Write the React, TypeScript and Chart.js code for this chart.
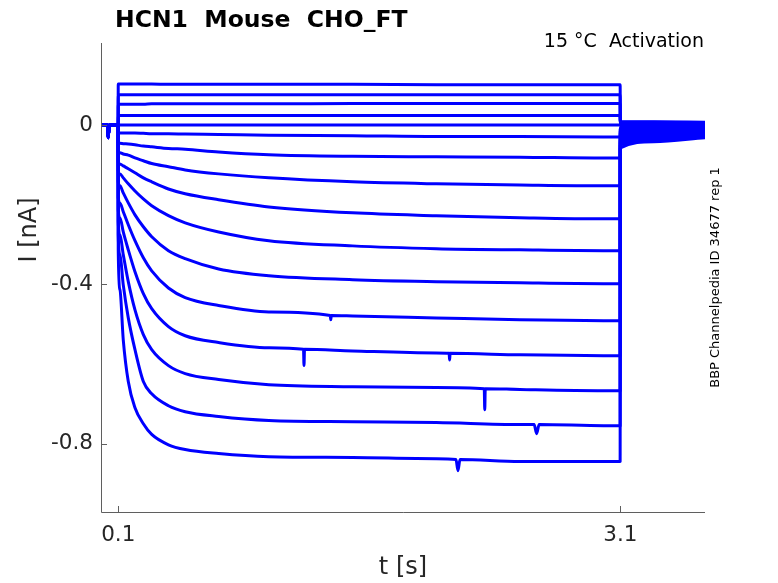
import { useEffect, useRef } from 'react';
import { Chart, registerables } from 'chart.js';
Chart.register(...registerables);

const X_TICKS = [0.1, 3.1];
const Y_TICKS = [-0.8, -0.4, 0];

// holding period before the step (s, nA)
const BASE_T = [-0.003, 0.036, 0.04, 0.046, 0.0995];
const BASE_I = [0.001, 0.001, -0.031, 0.001, 0.001];

// step period sample times (s)
const T_STEP = [0.1, 0.11, 0.13, 0.16, 0.2, 0.25, 0.3, 0.4, 0.5, 0.7, 1.0, 1.5, 2.0, 2.5, 3.0, 3.099];

const T1 = [0.104, 0.104, 0.104, 0.104, 0.104, 0.104, 0.104, 0.103, 0.103, 0.103, 0.103, 0.103, 0.102, 0.102, 0.102, 0.102];
const T2 = [0.077, 0.077, 0.077, 0.077, 0.077, 0.077, 0.077, 0.077, 0.077, 0.077, 0.077, 0.077, 0.077, 0.077, 0.077, 0.077];
const T3 = [0.053, 0.053, 0.053, 0.053, 0.053, 0.053, 0.054, 0.054, 0.054, 0.054, 0.054, 0.055, 0.055, 0.055, 0.055, 0.055];
const T4 = [0.025, 0.025, 0.025, 0.025, 0.025, 0.025, 0.025, 0.025, 0.025, 0.025, 0.025, 0.025, 0.025, 0.025, 0.025, 0.025];
const T5 = [0.001, 0.001, 0.001, 0.001, 0.001, 0.001, 0.001, 0.001, 0.001, 0.001, 0.001, 0.001, 0.001, 0.001, 0.001, 0.001];
const T6 = [-0.019, -0.019, -0.019, -0.019, -0.019, -0.02, -0.021, -0.021, -0.022, -0.023, -0.025, -0.026, -0.028, -0.028, -0.029, -0.029];
const T7 = [-0.044, -0.045, -0.046, -0.047, -0.049, -0.052, -0.054, -0.058, -0.06, -0.067, -0.074, -0.078, -0.079, -0.08, -0.082, -0.082];
const T8 = [-0.067, -0.069, -0.072, -0.075, -0.082, -0.089, -0.096, -0.104, -0.112, -0.122, -0.132, -0.142, -0.147, -0.15, -0.152, -0.152];
const T9 = [-0.092, -0.097, -0.102, -0.109, -0.119, -0.132, -0.142, -0.16, -0.172, -0.187, -0.205, -0.22, -0.227, -0.232, -0.235, -0.235];
const T10 = [-0.114, -0.122, -0.132, -0.147, -0.165, -0.185, -0.202, -0.227, -0.245, -0.268, -0.29, -0.303, -0.31, -0.313, -0.315, -0.315];
const T11 = [-0.142, -0.152, -0.17, -0.195, -0.225, -0.255, -0.28, -0.315, -0.335, -0.361, -0.378, -0.388, -0.393, -0.396, -0.398, -0.398];
const T12 = [-0.182, -0.195, -0.217, -0.25, -0.29, -0.333, -0.366, -0.409, -0.433, -0.453, -0.469, -0.479, -0.484, -0.489, -0.491, -0.491];
const T13 = [-0.212, -0.232, -0.268, -0.313, -0.368, -0.423, -0.461, -0.506, -0.529, -0.546, -0.559, -0.567, -0.572, -0.577, -0.579, -0.579];
const T14 = [-0.242, -0.275, -0.325, -0.393, -0.464, -0.526, -0.564, -0.604, -0.624, -0.639, -0.652, -0.657, -0.659, -0.664, -0.667, -0.667];
const T15 = [-0.275, -0.325, -0.401, -0.484, -0.564, -0.644, -0.675, -0.705, -0.72, -0.732, -0.742, -0.745, -0.747, -0.752, -0.755, -0.755];
const T16 = [-0.313, -0.413, -0.539, -0.644, -0.71, -0.75, -0.777, -0.803, -0.815, -0.825, -0.833, -0.835, -0.838, -0.845, -0.845, -0.845];
const TRACES = [T1, T2, T3, T4, T5, T6, T7, T8, T9, T10, T11, T12, T13, T14, T15, T16];

// tail currents after the step (s, nA per trace)
const TAIL_T = [3.1, 3.3, 3.606];
const TAIL_START = [0.009, 0.008, 0.006, 0.004, 0.001, -0.004, -0.009, -0.014, -0.019, -0.024, -0.029, -0.034, -0.039, -0.044, -0.05, -0.057];
const TAIL_MID = [0.009, 0.008, 0.006, 0.004, 0.001, -0.003, -0.006, -0.01, -0.014, -0.018, -0.021, -0.025, -0.029, -0.033, -0.036, -0.041];
const TAIL_END = [0.008, 0.006, 0.005, 0.004, 0.001, -0.001, -0.004, -0.006, -0.009, -0.011, -0.014, -0.018, -0.021, -0.024, -0.028, -0.031];

// artefact spikes: [trace index, time, base level, peak level, half width]
const SPIKES: number[][] = [
  [11, 1.37, -0.478, -0.489, 0.003],
  [12, 1.21, -0.563, -0.604, 0.003],
  [12, 2.08, -0.573, -0.59, 0.003],
  [13, 2.29, -0.662, -0.715, 0.003],
  [14, 2.6, -0.752, -0.775, 0.015],
  [15, 2.13, -0.84, -0.868, 0.012],
];

const TITLE = 'HCN1  Mouse  CHO_FT';
const SUBTITLE = '15 °C  Activation';
const X_LABEL = 't [s]';
const Y_LABEL = 'I [nA]';
const SIDE_NOTE = 'BBP Channelpedia ID 34677 rep 1';

export default function App() {
  const ref = useRef<HTMLCanvasElement>(null);
  useEffect(() => {
    if (!ref.current) return;
    const datasets = TRACES.map((tr, i) => {
      const pts: { x: number; y: number }[] = [];
      BASE_T.forEach((t, k) => pts.push({ x: t, y: BASE_I[k] }));
      T_STEP.forEach((t, k) => pts.push({ x: t, y: tr[k] }));
      pts.push({ x: TAIL_T[0], y: TAIL_START[i] });
      pts.push({ x: TAIL_T[1], y: TAIL_MID[i] });
      pts.push({ x: TAIL_T[2], y: TAIL_END[i] });
      SPIKES.filter((s) => s[0] === i).forEach((s) => {
        pts.push({ x: s[1] - s[4], y: s[2] }, { x: s[1], y: s[3] }, { x: s[1] + s[4], y: s[2] });
      });
      pts.sort((a, b) => a.x - b.x);
      return {
        data: pts,
        borderColor: '#0000ff',
        borderWidth: 3,
        pointRadius: 0,
        fill: false,
        cubicInterpolationMode: 'monotone',
      };
    });

    const axisPlugin = {
      id: 'matlabAxes',
      afterDraw(chart: any) {
        const ctx = chart.ctx as CanvasRenderingContext2D;
        const { left, right, top, bottom } = chart.chartArea;
        const xs = chart.scales.x;
        const ys = chart.scales.y;
        ctx.save();
        ctx.strokeStyle = '#5f5f5f';
        ctx.lineWidth = 1;
        ctx.beginPath();
        ctx.moveTo(left + 0.5, top);
        ctx.lineTo(left + 0.5, bottom + 0.5);
        ctx.lineTo(right, bottom + 0.5);
        Y_TICKS.forEach((v) => {
          const p = Math.round(ys.getPixelForValue(v)) + 0.5;
          ctx.moveTo(left, p);
          ctx.lineTo(left + 6, p);
        });
        X_TICKS.forEach((v) => {
          const p = Math.round(xs.getPixelForValue(v)) + 0.5;
          ctx.moveTo(p, bottom);
          ctx.lineTo(p, bottom - 6);
        });
        ctx.stroke();

        ctx.fillStyle = '#000';
        ctx.font = 'bold 23.5px "DejaVu Sans"';
        ctx.textAlign = 'left';
        ctx.textBaseline = 'alphabetic';
        ctx.fillText(TITLE, 115, 27);

        ctx.font = '19px "DejaVu Sans"';
        ctx.textAlign = 'right';
        ctx.fillText(SUBTITLE, 704, 47);

        ctx.fillStyle = '#262626';
        ctx.font = '24px "DejaVu Sans"';
        ctx.textAlign = 'center';
        ctx.textBaseline = 'middle';
        ctx.fillText(X_LABEL, (left + right) / 2, 568);

        ctx.save();
        ctx.translate(30, 230);
        ctx.rotate(-Math.PI / 2);
        ctx.fillText(Y_LABEL, 0, 0);
        ctx.restore();

        ctx.fillStyle = '#000';
        ctx.font = '13px "DejaVu Sans"';
        ctx.save();
        ctx.translate(716, (top + bottom) / 2);
        ctx.rotate(-Math.PI / 2);
        ctx.fillText(SIDE_NOTE, 0, 0);
        ctx.restore();
        ctx.restore();
      },
    };

    const tickFont = { family: 'DejaVu Sans', size: 21.5 };
    const chart = new Chart(ref.current, {
      type: 'line',
      data: { datasets: datasets as any },
      options: {
        animation: false,
        responsive: true,
        maintainAspectRatio: false,
        layout: { padding: { left: 0, right: 73, top: 43, bottom: 0 } },
        plugins: { legend: { display: false }, tooltip: { enabled: false }, title: { display: false } },
        elements: { line: { borderJoinStyle: 'round' } },
        scales: {
          x: {
            type: 'linear',
            min: -0.003,
            max: 3.606,
            grid: { display: false, drawTicks: false },
            border: { display: false },
            afterBuildTicks: (s: any) => {
              s.ticks = X_TICKS.map((v) => ({ value: v }));
            },
            afterFit: (s: any) => {
              s.height = 71;
            },
            ticks: {
              font: tickFont,
              color: '#262626',
              padding: 11,
              autoSkip: false,
              maxRotation: 0,
              callback: (v: any) => String(v),
            },
          },
          y: {
            type: 'linear',
            min: -0.972,
            max: 0.207,
            grid: { display: false, drawTicks: false },
            border: { display: false },
            afterBuildTicks: (s: any) => {
              s.ticks = Y_TICKS.map((v) => ({ value: v }));
            },
            afterFit: (s: any) => {
              s.width = 101;
            },
            ticks: {
              font: tickFont,
              color: '#262626',
              padding: 8,
              autoSkip: false,
              callback: (v: any) => String(v),
            },
          },
        },
      },
      plugins: [axisPlugin],
    });
    return () => chart.destroy();
  }, []);

  return (
    <div style={{ position: 'fixed', left: 0, top: 0, width: 778, height: 583, background: '#fff' }}>
      <canvas ref={ref} />
    </div>
  );
}
